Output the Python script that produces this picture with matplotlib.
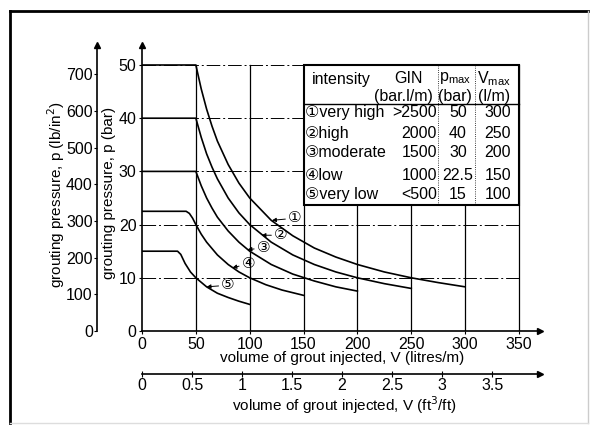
import matplotlib.pyplot as plt
from matplotlib.patches import Rectangle
from matplotlib.lines import Line2D

plt.rcParams['font.family'] = ['Liberation Sans', 'DejaVu Sans', 'Noto Sans CJK SC']

# table in the chart
row_labels = ['①very high', '②high', '③moderate', '④low', '⑤very low']
gin_txt = ['>2500', '2000', '1500', '1000', '<500']
pmax_txt = ['50', '40', '30', '22.5', '15']
vmax_txt = ['300', '250', '200', '150', '100']

# curves (V in litres/m, p in bar)
v1 = [0, 50, 55, 60, 65, 70, 80, 90, 100, 120, 140, 160, 180, 200, 225, 250, 275, 300]
p1 = [50, 50, 45.5, 41.7, 38.5, 35.7, 31.3, 27.8, 25, 20.8, 17.9, 15.6, 13.9, 12.5, 11.1, 10, 9.1, 8.3]
v2 = [0, 50, 55, 60, 65, 70, 80, 90, 100, 120, 140, 160, 180, 200, 225, 250]
p2 = [40, 40, 36.4, 33.3, 30.8, 28.6, 25, 22.2, 20, 16.7, 14.3, 12.5, 11.1, 10, 8.9, 8]
v3 = [0, 50, 55, 60, 65, 70, 80, 90, 100, 120, 140, 160, 180, 200]
p3 = [30, 30, 27.3, 25, 23.1, 21.4, 18.8, 16.7, 15, 12.5, 10.7, 9.4, 8.3, 7.5]
v4 = [0, 41, 44, 47, 50, 55, 60, 70, 80, 90, 100, 115, 130, 150]
p4 = [22.5, 22.5, 22.1, 21.2, 20, 18.2, 16.7, 14.3, 12.5, 11.1, 10, 8.7, 7.7, 6.7]
v5 = [0, 33, 36, 40, 45, 50, 60, 70, 80, 90, 100]
p5 = [15, 15, 14.4, 12.7, 11.1, 10, 8.3, 7.1, 6.3, 5.6, 5]

# curve labels: (text pos), (arrow tip)
tag_names = ['①', '②', '③', '④', '⑤']
tag_xy = [(142, 21.2), (129, 18.0), (113, 15.6), (99, 12.6), (80, 8.6)]
tag_tip = [(120.7, 20.8), (111, 18.0), (98, 15.3), (84, 11.9), (60, 8.3)]

xticks_lm = [0, 50, 100, 150, 200, 250, 300, 350]
yticks_bar = [0, 10, 20, 30, 40, 50]
yticks_psi = [0, 100, 200, 300, 400, 500, 600, 700]
xticks_ft = [0, 0.5, 1, 1.5, 2, 2.5, 3, 3.5]

W, H = 592, 428
fig = plt.figure(figsize=(W / 100, H / 100), dpi=100)

# pixel layout of the main plot
px0, px1 = 142, 540
py0, py1 = 331, 45
sx, sy = 1.077, 5.32   # px per l/m, px per bar
ax = fig.add_axes([px0 / W, 1 - py0 / H, (px1 - px0) / W, (py0 - py1) / H])
ax.set_xlim(0, (px1 - px0) / sx)
ax.set_ylim(0, (py0 - py1) / sy)
for s in ['top', 'right']:
    ax.spines[s].set_visible(False)
for s in ['left', 'bottom']:
    ax.spines[s].set_linewidth(1.2)
ax.plot(1, 0, '>k', ms=5, transform=ax.transAxes, clip_on=False)
ax.plot(0, 1, '^k', ms=5, transform=ax.transAxes, clip_on=False)

ax.set_xticks(xticks_lm)
ax.set_yticks(yticks_bar)
ax.tick_params(labelsize=11.5, length=2, pad=2)

# grid
dashdot = (0, (14, 3, 2, 3))
for yv in [10, 20, 30, 40, 50]:
    ax.plot([0, 350], [yv, yv], color='k', lw=0.7, ls=dashdot, zorder=1)
for xv in [50, 100, 150, 200, 250, 300, 350]:
    ax.plot([xv, xv], [0, 50], color='k', lw=0.9, zorder=1)

# curves
for v, p in [(v1, p1), (v2, p2), (v3, p3), (v4, p4), (v5, p5)]:
    ax.plot(v, p, color='k', lw=1.2, zorder=2)

for name, xy, tip in zip(tag_names, tag_xy, tag_tip):
    ax.annotate(name, xy=tip, xytext=xy, fontsize=11, ha='center', va='center',
                arrowprops=dict(arrowstyle='-|>', lw=0.7, color='k',
                                mutation_scale=6, shrinkA=0, shrinkB=0))

# table box
ax.add_patch(Rectangle((150, 23.6), 200, 26.4, facecolor='white', edgecolor='k',
                       lw=1.5, zorder=3))
ax.plot([150, 350], [42.6, 42.6], color='k', lw=1.0, zorder=4)
ax.plot([274.8, 274.8], [23.6, 50], color='k', lw=0.6, ls=':', zorder=4)
ax.plot([309, 309], [23.6, 50], color='k', lw=0.6, ls=':', zorder=4)
fs = 11.5
hy1, hy2 = 47.5, 44.0
ax.text(157.8, hy1 - 0.3, 'intensity', fontsize=fs, ha='left', va='center', zorder=5)
ax.text(247, hy1, 'GIN', fontsize=fs, ha='center', va='center', zorder=5)
ax.text(242.3, hy2, '(bar.l/m)', fontsize=fs, ha='center', va='center', zorder=5)
ax.text(291, hy1, r'p$_\mathregular{max}$', fontsize=fs, ha='center', va='center', zorder=5)
ax.text(291, hy2, '(bar)', fontsize=fs, ha='center', va='center', zorder=5)
ax.text(327, hy1, r'V$_\mathregular{max}$', fontsize=fs, ha='center', va='center', zorder=5)
ax.text(327, hy2, '(l/m)', fontsize=fs, ha='center', va='center', zorder=5)
row_y = [41.0, 37.2, 33.5, 29.3, 25.6]
for lab, g, pm, vm, yy in zip(row_labels, gin_txt, pmax_txt, vmax_txt, row_y):
    ax.text(151.0, yy, lab, fontsize=fs, ha='left', va='center', zorder=5)
    ax.text(273.9, yy, g, fontsize=fs, ha='right', va='center', zorder=5)
    ax.text(293.4, yy, pm, fontsize=fs, ha='center', va='center', zorder=5)
    ax.text(342.6, yy, vm, fontsize=fs, ha='right', va='center', zorder=5)

# psi axis
loc_psi = -(px0 - 97) / (px1 - px0)
sec_y = ax.secondary_yaxis(loc_psi, functions=(lambda p: p * 14.5038, lambda s: s / 14.5038))
sec_y.set_yticks(yticks_psi)
sec_y.tick_params(labelsize=11.5, length=2, pad=1)
sec_y.spines['left'].set_linewidth(1.2)
ax.plot(loc_psi, 1, '^k', ms=5, transform=ax.transAxes, clip_on=False)

# ft3/ft axis
loc_ft = -(374 - py0) / (py0 - py1)
sec_x = ax.secondary_xaxis(loc_ft, functions=(lambda v: v * 0.0107639, lambda f: f / 0.0107639))
sec_x.set_xticks(xticks_ft)
sec_x.set_xticklabels(['0', '0.5', '1', '1.5', '2', '2.5', '3', '3.5'])
sec_x.tick_params(labelsize=11.5, length=4, direction='inout', pad=1)
sec_x.spines['bottom'].set_linewidth(1.2)
ax.plot(1, loc_ft, '>k', ms=5, transform=ax.transAxes, clip_on=False)

# axis titles
lfs = 11
fig.text(342 / W, 1 - 358 / H, 'volume of grout injected, V (litres/m)', fontsize=lfs,
         ha='center', va='center')
fig.text(344 / W, 1 - 405 / H, 'volume of grout injected, V (ft$^3$/ft)', fontsize=lfs,
         ha='center', va='center')
fig.text(109 / W, 1 - 193 / H, 'grouting pressure, p (bar)', fontsize=lfs, rotation=90,
         ha='center', va='center')
fig.text(56 / W, 1 - 195 / H, 'grouting pressure, p (lb/in$^2$)', fontsize=lfs, rotation=90,
         ha='center', va='center')

# outer frame
fig.add_artist(Line2D([10 / W, 10 / W], [1 - 11 / H, 1 - 423 / H], color='k', lw=2))
fig.add_artist(Line2D([10 / W, 588 / W], [1 - 11 / H, 1 - 11 / H], color='k', lw=2))
fig.add_artist(Line2D([588 / W, 588 / W], [1 - 11 / H, 1 - 423 / H], color='#cccccc', lw=1))
fig.add_artist(Line2D([10 / W, 588 / W], [1 - 423 / H, 1 - 423 / H], color='#dddddd', lw=1))

fig.savefig('out.png', dpi=100)
